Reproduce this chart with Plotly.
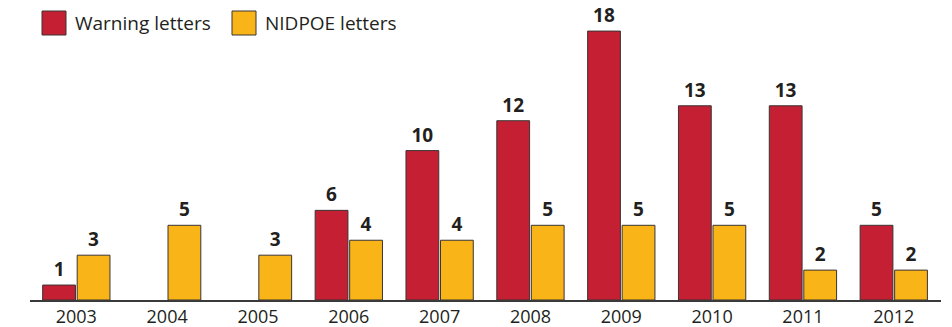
import plotly.graph_objects as go

years = ["2003", "2004", "2005", "2006", "2007", "2008", "2009", "2010", "2011", "2012"]
warning = [1, None, None, 6, 10, 12, 18, 13, 13, 5]
nidpoe = [3, 5, 3, 4, 4, 5, 5, 5, 2, 2]

RED = "#C41F33"
YEL = "#F9B418"
TXT = "#231F20"
FONT = "Open Sans"

W, H = 952, 327
ML, MR, MT, MB = 30, 11, 7, 27
pw = W - ML - MR
ph = H - MT - MB

def lbl(v):
    return [("" if x is None else str(x)) for x in v]

fig = go.Figure()
for name, vals, col in [("Warning letters", warning, RED), ("NIDPOE letters", nidpoe, YEL)]:
    fig.add_trace(go.Bar(
        x=list(range(len(years))), y=vals, name=name,
        marker=dict(color=col, line=dict(color="#3a3434", width=1)),
        text=lbl(vals), textposition="outside", constraintext="none", cliponaxis=False,
        textfont=dict(family=FONT, size=19, color=TXT, weight="bold"),
        showlegend=False,
    ))

# custom legend (large squares)
def px_x(p):
    return (p - ML) / pw
def px_y(p):
    return (H - MB - p) / ph

shapes = []
annots = []
for (x0, name, col) in [(42, "Warning letters", RED), (232, "NIDPOE letters", YEL)]:
    shapes.append(dict(type="rect", xref="paper", yref="paper",
                       x0=px_x(x0), x1=px_x(x0 + 24), y0=px_y(35), y1=px_y(11),
                       fillcolor=col, line=dict(color="#3a3434", width=1)))
    annots.append(dict(xref="paper", yref="paper", x=px_x(x0 + 31), y=px_y(23),
                       xanchor="left", yanchor="middle", showarrow=False, text=name,
                       font=dict(family=FONT, size=19, color=TXT)))

fig.update_layout(
    width=W, height=H,
    margin=dict(l=ML, r=MR, t=MT, b=MB, autoexpand=False),
    paper_bgcolor="white", plot_bgcolor="white",
    barmode="group", bargap=0.24, bargroupgap=0.05,
    shapes=shapes, annotations=annots,
    xaxis=dict(range=[-0.51, 9.52], tickmode="array", tickvals=list(range(len(years))),
               ticktext=years, showline=True, linecolor="#3a3a3a", linewidth=1.5,
               showgrid=False, zeroline=False, ticks="", ticklen=0, ticklabelstandoff=0,
               tickfont=dict(family=FONT, size=18, color=TXT), automargin=False),
    yaxis=dict(range=[0, ph / 14.94], visible=False, showgrid=False, zeroline=False,
               automargin=False),
)

fig.write_html("out.html")
